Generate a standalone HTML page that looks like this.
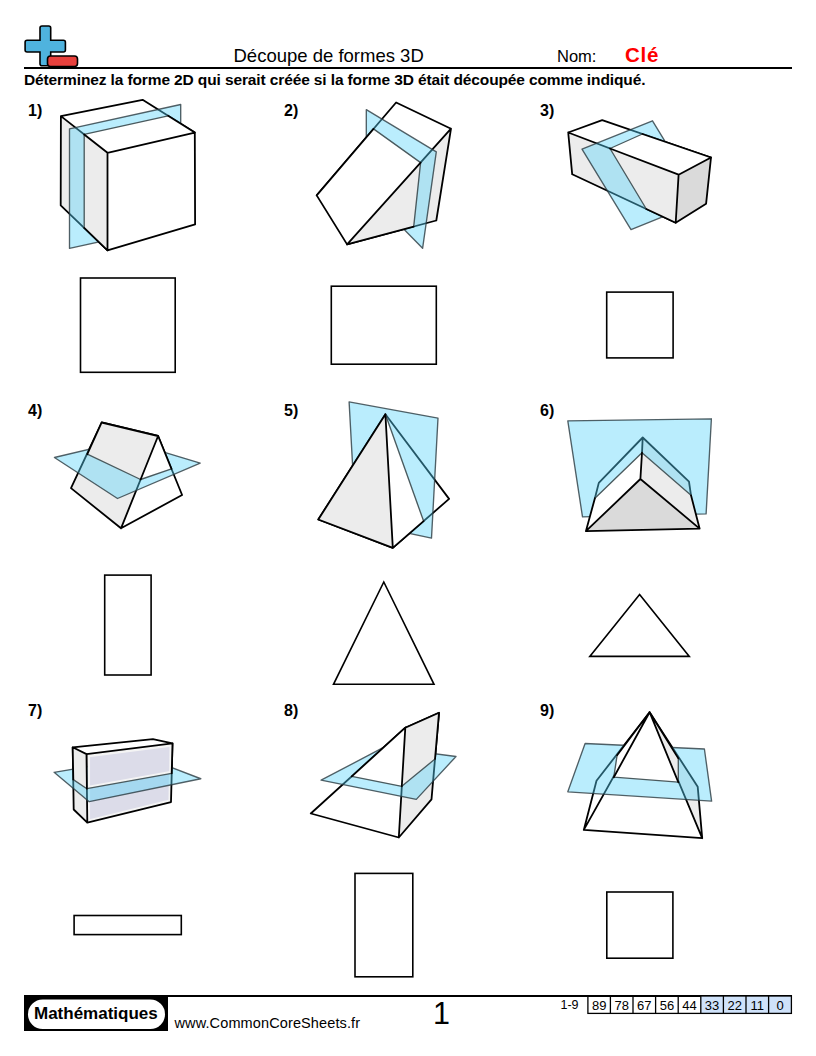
<!DOCTYPE html>
<html><head><meta charset="utf-8">
<style>
html,body{margin:0;padding:0;background:#fff;}
body{width:816px;height:1056px;position:relative;overflow:hidden;font-family:"Liberation Sans",sans-serif;color:#000;}
.t{position:absolute;white-space:nowrap;line-height:1;}
.lbl{position:absolute;font-weight:bold;font-size:16px;line-height:1;}
svg.fig{position:absolute;left:0;top:0;}
</style></head><body>
<svg class="fig" width="816" height="1056" viewBox="0 0 816 1056">
  <!-- header line -->
  <rect x="24" y="67" width="768" height="2" fill="#000"/>
  <!-- logo -->
  <path d="M42,26 h6.7 a2,2 0 0 1 2,2 v12.2 h12.7 a2,2 0 0 1 2,2 v7.8 a2,2 0 0 1 -2,2 h-12.7 v11.8 a2,2 0 0 1 -2,2 h-6.7 a2,2 0 0 1 -2,-2 v-11.8 h-12.9 a2,2 0 0 1 -2,-2 v-7.8 a2,2 0 0 1 2,-2 h12.9 v-12.2 a2,2 0 0 1 2,-2 z" fill="#4fb3de" stroke="#000" stroke-width="1.6"/>
  <rect x="47.5" y="56" width="30" height="10.5" rx="3" fill="#e8413d" stroke="#000" stroke-width="1.6"/>
  <!-- footer -->
  <rect x="24" y="995" width="768" height="2" fill="#000"/>
  <rect x="24" y="995" width="144" height="36" fill="#000"/>
  <rect x="28" y="999.5" width="137" height="29.5" rx="14.7" fill="#fff"/>

  <defs>
    <style>
      .k{fill:none;stroke:#000;stroke-width:1.8;stroke-linejoin:round;stroke-linecap:round}
      .pl{fill:rgb(88,212,250);fill-opacity:0.41;stroke:#2a3a40;stroke-opacity:0.8;stroke-width:1.35;stroke-linejoin:round}
      .ct{fill:none;stroke:#4a5a5e;stroke-width:1.35;stroke-linecap:round;stroke-linejoin:round}
      .w{fill:#fff}
      .g{fill:#ececec}
      .g2{fill:#dadada}
    </style>
  </defs>
  <!-- FIG 1 : cube -->
  <g>
    <polygon class="g" points="60.9,116.1 107.5,152.8 107.5,250.3 60.7,205.4"/>
    <polygon class="w" points="60.9,116.1 142.6,99.8 194.8,132.6 107.5,152.8"/>
    <path class="k" d="M107.5,152.8 L60.9,116.1 L142.6,99.8 L194.8,132.6 M60.9,116.1 L60.7,205.4 L107.5,250.3"/>
    <polygon class="pl" points="69.5,128.8 180.7,104.5 180.7,224 69.5,248.3"/>
    <polygon class="g" points="84.2,134.45 107.5,152.8 107.5,250.3 84.2,227.9"/>
    <polygon class="w" points="84.2,134.45 168.1,115.8 194.8,132.6 107.5,152.8"/>
    <polygon class="w" points="107.5,152.8 194.8,132.6 195.1,224.4 107.5,250.3"/>
    <path class="ct" d="M84.2,227.9 L84.2,134.45 L168.1,115.8"/>
    <path class="k" d="M84.2,134.45 L107.5,152.8 L194.8,132.6 L168.1,115.8 M107.5,152.8 L107.5,250.3 L195.1,224.4 L194.8,132.6 M107.5,250.3 L84.2,227.9"/>
  </g>
  <!-- FIG 2 : wedge -->
  <g>
    <polygon class="w" points="396.1,102.5 451,128.7 347.1,244.4 316.7,195.4"/>
    <polygon class="g" points="451,128.7 436.3,220.5 347.1,244.4"/>
    <path class="k" d="M316.7,195.4 L396.1,102.5 L451,128.7 L436.3,220.5 L347.1,244.4 M451,128.7 L347.1,244.4"/>
    <polygon class="pl" points="366.3,109.7 436.3,151.9 422.6,248.3 366.3,191"/>
    <polygon class="w" points="316.7,195.4 373.5,128.9 420.6,162.6 347.1,244.4"/>
    <polygon class="g" points="420.6,162.6 413.7,226.6 347.1,244.4"/>
    <path class="ct" d="M373.5,128.9 L420.6,162.6 L413.7,226.6"/>
    <path class="k" d="M373.5,128.9 L316.7,195.4 L347.1,244.4 L420.6,162.6 M347.1,244.4 L413.7,226.6"/>
  </g>
  <!-- FIG 3 : long box -->
  <g>
    <polygon class="w" points="568.2,132.5 602.2,120.2 711,157.5 678.6,174.7"/>
    <polygon class="g" points="568.2,132.5 678.6,174.7 675.7,222.7 572.2,174.3"/>
    <polygon class="g2" points="678.6,174.7 711,157.5 706.1,203.7 675.7,222.7"/>
    <path class="k" d="M678.6,174.7 L568.2,132.5 L602.2,120.2 L711,157.5 M568.2,132.5 L572.2,174.3 L675.7,222.7"/>
    <polygon class="pl" points="582,149.2 652.5,120.8 701.5,201.2 631,229.6"/>
    <polygon class="w" points="610,148.5 642.4,134 711,157.5 678.6,174.7"/>
    <polygon class="g" points="610,148.5 678.6,174.7 675.7,222.7 646.3,209"/>
    <polygon class="g2" points="678.6,174.7 711,157.5 706.1,203.7 675.7,222.7"/>
    <path class="ct" d="M642.4,134 L610,148.5 L646.3,209"/>
    <path class="k" d="M610,148.5 L678.6,174.7 L711,157.5 L642.4,134 M678.6,174.7 L675.7,222.7 L706.1,203.7 L711,157.5 M675.7,222.7 L646.3,209"/>
  </g>
  <!-- FIG 4 : tent prism -->
  <g>
    <polygon class="g" points="101.7,422.5 158.1,436 121,528.3 71,488.1"/>
    <polygon class="w" points="158.1,436 182.1,495 121,528.3"/>
    <path class="k" d="M101.7,422.5 L158.1,436 L121,528.3 L71,488.1 Z M158.1,436 L182.1,495 L121,528.3"/>
    <polygon class="pl" points="54.4,457.5 125.7,440.6 200.2,463.1 117.5,498.5"/>
    <polygon class="g" points="101.7,422.5 158.1,436 140.6,479.5 87.3,454.2"/>
    <polygon class="w" points="158.1,436 171.5,468.9 140.6,479.5"/>
    <path class="ct" d="M87.3,454.2 L140.6,479.5 L171.5,468.9"/>
    <path class="k" d="M87.3,454.2 L101.7,422.5 L158.1,436 L140.6,479.5 M158.1,436 L171.5,468.9"/>
  </g>
  <!-- FIG 5 : tetrahedron -->
  <g>
    <polygon class="g" points="385.4,414.2 318.3,519.5 392.8,547.9"/>
    <polygon class="w" points="385.4,414.2 392.8,547.9 449.1,498.9"/>
    <path class="k" d="M385.4,414.2 L318.3,519.5 L392.8,547.9 L449.1,498.9 Z M385.4,414.2 L392.8,547.9"/>
    <polygon class="pl" points="349.1,401.9 438,418.1 431.5,538.1 355.7,522"/>
    <polygon class="g" points="385.4,414.2 318.3,519.5 392.8,547.9"/>
    <polygon class="w" points="385.4,414.2 392.8,547.9 423.6,521.1"/>
    <path class="ct" d="M385.4,414.2 L423.6,521.1"/>
    <path class="k" d="M423.6,521.1 L392.8,547.9 L318.3,519.5 L385.4,414.2 L392.8,547.9"/>
  </g>
  <!-- FIG 6 : prism through plane -->
  <g>
    <polygon class="w" points="642.7,437.5 598.8,482.9 594.9,498.2 642,452.7"/>
    <polygon class="g" points="642.7,437.5 689,481.6 691,495.3 642,452.7"/>
    <path class="k" d="M594.9,498.2 L598.8,482.9 L642.7,437.5 L689,481.6 L691,495.3 M642.7,437.5 L642,452.7"/>
    <polygon class="pl" points="567.8,420.8 711.4,418.8 706.1,513.9 582.5,516.9"/>
    <polygon class="w" points="642,452.7 594.9,498.2 585.9,531.2 640.4,479"/>
    <polygon class="g" points="642,452.7 691,495.3 699.6,528.6 640.4,479"/>
    <polygon class="g2" points="640.4,479 585.9,531.2 699.6,528.6"/>
    <path class="ct" d="M594.9,498.2 L642,452.7 L691,495.3"/>
    <path class="k" d="M640.4,479 L585.9,531.2 L699.6,528.6 Z M594.9,498.2 L585.9,531.2 M691,495.3 L699.6,528.6 M642,452.7 L640.4,479"/>
  </g>
  <!-- FIG 7 : box horizontal plane -->
  <g>
    <polygon class="w" points="72.7,747.3 152.9,739.2 172.5,743.3 86.5,754.1"/>
    <polygon class="g" points="72.7,747.3 86.5,754.1 87.3,822.7 73.7,809.5"/>
    <polygon fill="#dcdce9" stroke="#f4f4f4" stroke-width="2.5" points="88.8,756 170.8,745.4 169.7,800.7 88.8,820.6"/>
    <path class="k" d="M72.7,747.3 L73.7,809.5 L87.3,822.7 L171,802.1 L172.5,743.3 M86.5,754.1 L87.3,822.7"/>
    <polygon class="pl" points="54.1,772.3 144.5,757.1 200.8,778.75 89.2,801.7"/>
    <polygon class="g" points="72.7,747.3 86.5,754.1 86.9,788.7 73.3,779.6"/>
    <polygon fill="#dcdce9" stroke="#f4f4f4" stroke-width="2.5" points="88.8,756 170.8,745.4 170.4,772.3 88.8,787"/>
    <path class="ct" d="M73.3,779.6 L86.9,788.7 L171.7,773.3"/>
    <path class="k" d="M72.7,747.3 L152.9,739.2 L172.5,743.3 L86.5,754.1 Z M72.7,747.3 L73.3,779.6 M86.5,754.1 L86.9,788.7 M172.5,743.3 L171.7,773.3"/>
  </g>
  <!-- FIG 8 : wedge horizontal plane -->
  <g>
    <polygon class="w" points="405.3,727.7 310.8,813.5 398.8,837.5"/>
    <polygon class="g" points="405.3,727.7 439,712.8 431.5,799.4 398.8,837.5"/>
    <path class="k" d="M405.3,727.7 L310.8,813.5 L398.8,837.5 L431.5,799.4 L439,712.8 L405.3,727.7 L398.8,837.5"/>
    <polygon class="pl" points="321.1,780.2 384,747.2 456,756.5 416.3,799.4"/>
    <polygon class="w" points="405.3,727.7 351.8,776.3 401.8,786.3"/>
    <polygon class="g" points="405.3,727.7 439,712.8 435,759 401.8,786.3"/>
    <path class="ct" d="M351.8,776.3 L401.8,786.3 L435,759"/>
    <path class="k" d="M351.8,776.3 L405.3,727.7 L439,712.8 L435,759 M405.3,727.7 L401.8,786.3"/>
  </g>
  <!-- FIG 9 : square pyramid -->
  <g>
    <polygon class="w" points="649.6,712.2 583.8,829.9 702.2,838.2"/>
    <polygon class="w" points="649.6,712.2 596.5,780.8 583.8,829.9"/>
    <polygon class="g" points="649.6,712.2 702.2,838.2 697.7,786.7"/>
    <path class="k" d="M649.6,712.2 L596.5,780.8 L583.8,829.9 L702.2,838.2 L697.7,786.7 Z M649.6,712.2 L583.8,829.9 M649.6,712.2 L702.2,838.2"/>
    <polygon class="pl" points="585.1,743.5 704.4,749 711.6,801.1 567.8,791.8"/>
    <polygon class="w" points="649.6,712.2 613.8,777.2 678.3,782.2"/>
    <polygon class="w" points="649.6,712.2 617.1,755.2 613.8,777.2"/>
    <polygon class="g" points="649.6,712.2 678.3,782.2 678.3,758.4"/>
    <path class="ct" d="M617.1,755.2 L613.8,777.2 L678.3,782.2 L678.3,758.4"/>
    <path class="k" d="M613.8,777.2 L649.6,712.2 L678.3,782.2 M617.1,755.2 L649.6,712.2 L678.3,758.4"/>
  </g>

  <!-- answers -->
  <g fill="none" stroke="#000" stroke-width="1.6" stroke-linejoin="miter">
    <rect x="80.5" y="278" width="94.7" height="94.3"/>
    <rect x="331.3" y="286.2" width="105" height="78"/>
    <rect x="606.7" y="292.1" width="66.4" height="65.8"/>
    <rect x="104.7" y="575.1" width="46.4" height="99.9"/>
    <polygon points="383.8,582 434,684.3 333.5,684.3"/>
    <polygon points="639.6,594.5 689.3,656.4 589.8,656.4"/>
    <rect x="74.1" y="915.5" width="107.2" height="19.1"/>
    <rect x="355" y="873.4" width="57.8" height="103.4"/>
    <rect x="606.8" y="892" width="66.1" height="66.2"/>
  </g>
  <!-- score table -->
  <rect x="700.7" y="996" width="90.8" height="17.5" fill="#cfe2fa"/>
  <g stroke="#000" stroke-width="1.3" fill="none">
    <rect x="587.9" y="996" width="203.5" height="17.4"/>
    <line x1="610.4" y1="996" x2="610.4" y2="1013.4"/>
    <line x1="633" y1="996" x2="633" y2="1013.4"/>
    <line x1="655.6" y1="996" x2="655.6" y2="1013.4"/>
    <line x1="678.2" y1="996" x2="678.2" y2="1013.4"/>
    <line x1="700.8" y1="996" x2="700.8" y2="1013.4"/>
    <line x1="723.4" y1="996" x2="723.4" y2="1013.4"/>
    <line x1="746" y1="996" x2="746" y2="1013.4"/>
    <line x1="768.6" y1="996" x2="768.6" y2="1013.4"/>
  </g>
</svg>
<div class="t" style="left:233.5px;top:47px;font-size:18.5px;">Découpe de formes 3D</div>
<div class="t" style="left:557px;top:48px;font-size:16.5px;">Nom:</div>
<div class="t" style="left:625px;top:45px;font-size:20.5px;letter-spacing:0.8px;font-weight:bold;color:#f00;">Clé</div>
<div class="t" style="left:24px;top:72px;font-size:15.5px;letter-spacing:-0.12px;font-weight:bold;">Déterminez la forme 2D qui serait créée si la forme 3D était découpée comme indiqué.</div>

<div class="lbl" style="left:28px;top:103px;">1)</div>
<div class="lbl" style="left:284px;top:103px;">2)</div>
<div class="lbl" style="left:540px;top:103px;">3)</div>
<div class="lbl" style="left:28px;top:403px;">4)</div>
<div class="lbl" style="left:284px;top:403px;">5)</div>
<div class="lbl" style="left:540px;top:403px;">6)</div>
<div class="lbl" style="left:28px;top:703px;">7)</div>
<div class="lbl" style="left:284px;top:703px;">8)</div>
<div class="lbl" style="left:540px;top:703px;">9)</div>

<div class="t" style="left:34px;top:1005px;font-size:17px;font-weight:bold;">Mathématiques</div>
<div class="t" style="left:174.5px;top:1016px;font-size:14.5px;letter-spacing:0.12px;">www.CommonCoreSheets.fr</div>
<div class="t" style="left:433px;top:997.5px;font-size:30.5px;">1</div>
<div class="t" style="left:560.5px;top:998.5px;font-size:12.5px;">1-9</div>
<div class="t" style="left:587.9px;width:22.5px;text-align:center;top:998.5px;font-size:13px;">89</div>
<div class="t" style="left:610.4px;width:22.6px;text-align:center;top:998.5px;font-size:13px;">78</div>
<div class="t" style="left:633.0px;width:22.6px;text-align:center;top:998.5px;font-size:13px;">67</div>
<div class="t" style="left:655.6px;width:22.6px;text-align:center;top:998.5px;font-size:13px;">56</div>
<div class="t" style="left:678.2px;width:22.6px;text-align:center;top:998.5px;font-size:13px;">44</div>
<div class="t" style="left:700.8px;width:22.6px;text-align:center;top:998.5px;font-size:13px;">33</div>
<div class="t" style="left:723.4px;width:22.6px;text-align:center;top:998.5px;font-size:13px;">22</div>
<div class="t" style="left:746.0px;width:22.6px;text-align:center;top:998.5px;font-size:13px;">11</div>
<div class="t" style="left:768.6px;width:22.8px;text-align:center;top:998.5px;font-size:13px;">0</div>
</body></html>
